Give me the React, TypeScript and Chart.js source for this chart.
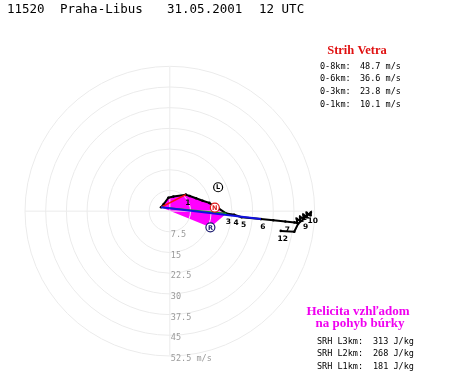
import { useEffect, useRef } from 'react';
import { Chart, registerables } from 'chart.js';
Chart.register(...registerables);

// Hodograph (u, v in m/s), surface to 12 km
const hodoU = [-3.2, -2.2, -0.5, 1.3, 5.8, 7.2, 9.5, 11.9, 14.3, 16.0, 17.8, 20.5, 23.3, 26.0, 33.0, 37.5, 41.9, 45.2, 46.2, 46.0, 47.4, 47.2, 48.5, 48.4, 49.7, 49.6, 50.9, 51.1, 46.5, 45.1, 40.2];
const hodoV = [1.4, 2.6, 4.9, 5.3, 6.0, 5.5, 4.7, 3.8, 3.0, 1.8, 0.9, -0.9, -1.3, -2.2, -2.9, -3.3, -3.8, -4.1, -4.3, -2.8, -3.6, -2.1, -2.9, -1.3, -2.2, -0.6, -1.5, -0.5, -4.6, -7.5, -7.2];
const kmLabels = ['1', '3', '4', '5', '6', '7', '9', '10', '12'];
const kmIndex = [4, 11, 12, 13, 14, 16, 22, 27, 30];
const idx1km = 4;
const idx3km = 11;
const idx6km = 14;

// Storm motion points
const stormNames = ['R', 'L', 'N'];
const stormU = [14.7, 17.5, 16.3];
const stormV = [-5.9, 8.7, 1.3];
const stormColors = ['#1c1c70', '#000000', '#e01818'];

// Rings
const ringValues = [7.5, 15, 22.5, 30, 37.5, 45, 52.5];
const ringLabels = ['7.5', '15', '22.5', '30', '37.5', '45', '52.5 m/s'];

// Texts
const titleParts = ['11520', 'Praha-Libus', '31.05.2001', '12 UTC'];
const shearTitle = 'Strih Vetra';
const shearLevels = ['0-8km:', '0-6km:', '0-3km:', '0-1km:'];
const shearValues = ['48.7', '36.6', '23.8', '10.1'];
const srhTitle = ['Helicita vzhľadom', 'na pohyb búrky'];
const srhLevels = ['SRH L3km:', 'SRH L2km:', 'SRH L1km:'];
const srhValues = ['313', '268', '181'];

const pts = (a: number, b: number) => {
  const out: { x: number; y: number }[] = [];
  for (let i = a; i <= b; i++) out.push({ x: hodoU[i], y: hodoV[i] });
  return out;
};

const MONO = '"DejaVu Sans Mono", monospace';
const SERIF = '"Liberation Serif", "Times New Roman", serif';

export default function App() {
  const ref = useRef<HTMLCanvasElement | null>(null);
  useEffect(() => {
    document.body.style.margin = '0';
    const canvas = ref.current!;
    const srhPoly = [...pts(0, idx3km), { x: stormU[0], y: stormV[0] }, { x: hodoU[0], y: hodoV[0] }];

    const gridPlugin = {
      id: 'hodoGrid',
      afterDatasetDraw(chart: any, args: any) {
        if (args.index !== 0) return;
        const xs = chart.scales.x, ys = chart.scales.y;
        const ctx = chart.ctx;
        const cx = xs.getPixelForValue(0), cy = ys.getPixelForValue(0);
        ctx.save();
        ctx.strokeStyle = '#ebebeb';
        ctx.lineWidth = 1;
        for (const r of ringValues) {
          const rp = xs.getPixelForValue(r) - cx;
          ctx.beginPath();
          ctx.arc(cx, cy, rp, 0, Math.PI * 2);
          ctx.stroke();
        }
        const R = ringValues[ringValues.length - 1];
        ctx.beginPath();
        ctx.moveTo(xs.getPixelForValue(-R), cy);
        ctx.lineTo(xs.getPixelForValue(R), cy);
        ctx.moveTo(cx, ys.getPixelForValue(R));
        ctx.lineTo(cx, ys.getPixelForValue(-R));
        ctx.stroke();
        ctx.restore();
      },
    };

    const textPlugin = {
      id: 'hodoText',
      afterDatasetsDraw(chart: any) {
        const xs = chart.scales.x, ys = chart.scales.y;
        const ctx = chart.ctx;
        const cx = xs.getPixelForValue(0);
        ctx.save();
        ctx.textBaseline = 'alphabetic';
        // ring labels
        ctx.fillStyle = '#9a9a9a';
        ctx.font = `8.5px ${MONO}`;
        ctx.textAlign = 'left';
        ringValues.forEach((r, i) => {
          const y = ys.getPixelForValue(-r);
          ctx.fillText(ringLabels[i], cx + 1, y + 5.5);
        });
        // km labels
        ctx.fillStyle = '#000';
        ctx.font = `bold 7.5px "DejaVu Sans", sans-serif`;
        ctx.textAlign = 'center';
        kmLabels.forEach((l, i) => {
          const k = kmIndex[i];
          const x = xs.getPixelForValue(hodoU[k]);
          const y = ys.getPixelForValue(hodoV[k]);
          ctx.fillText(l, x + 2, y + 10);
        });
        // storm letters
        ctx.font = `bold 6.5px "DejaVu Sans", sans-serif`;
        ctx.textBaseline = 'middle';
        stormNames.forEach((n, i) => {
          ctx.fillStyle = stormColors[i];
          ctx.fillText(n, xs.getPixelForValue(stormU[i]), ys.getPixelForValue(stormV[i]) + 0.5);
        });
        ctx.textBaseline = 'alphabetic';
        // title
        ctx.textAlign = 'left';
        ctx.fillStyle = '#000';
        ctx.font = `12.5px ${MONO}`;
        const tx = [7, 60, 167, 259];
        titleParts.forEach((t, i) => ctx.fillText(t, tx[i], 13));
        // shear panel
        ctx.textAlign = 'center';
        ctx.fillStyle = '#e01010';
        ctx.font = `bold 12.5px ${SERIF}`;
        ctx.fillText(shearTitle, 357, 54);
        ctx.textAlign = 'left';
        ctx.fillStyle = '#000';
        ctx.font = `8.5px ${MONO}`;
        const sy = [68.7, 81.3, 94, 107];
        shearLevels.forEach((l, i) => {
          ctx.fillText(l, 320, sy[i]);
          ctx.fillText(`${shearValues[i]} m/s`, 360, sy[i]);
        });
        // SRH panel
        ctx.textAlign = 'center';
        ctx.fillStyle = '#f000f0';
        ctx.font = `bold 13px ${SERIF}`;
        ctx.fillText(srhTitle[0], 358, 315);
        ctx.fillText(srhTitle[1], 360, 327);
        ctx.textAlign = 'left';
        ctx.fillStyle = '#000';
        ctx.font = `8.5px ${MONO}`;
        const ry = [343.7, 355.7, 369];
        srhLevels.forEach((l, i) => {
          ctx.fillText(l, 317, ry[i]);
          ctx.fillText(`${srhValues[i]} J/kg`, 373, ry[i]);
        });
        ctx.restore();
      },
    };

    const chart = new Chart(canvas, {
      type: 'line',
      data: {
        datasets: [
          {
            label: 'srh',
            data: srhPoly,
            fill: 'shape',
            backgroundColor: '#ff00ff',
            borderColor: '#ff00ff',
            borderWidth: 0,
            pointRadius: 0,
            tension: 0,
            order: 10,
          },
          {
            label: 'hodograph',
            data: pts(0, hodoU.length - 1),
            borderColor: '#000',
            borderWidth: 2,
            pointRadius: 1.3,
            pointBackgroundColor: '#000',
            pointBorderWidth: 0,
            fill: false,
            tension: 0,
            order: 5,
          },
          {
            label: '0-1',
            data: [{ x: hodoU[0], y: hodoV[0] }, { x: hodoU[idx1km], y: hodoV[idx1km] }],
            borderColor: '#ff1010',
            borderWidth: 1.5,
            pointRadius: 0,
            fill: false,
            order: 4,
          },
          {
            label: '0-3',
            data: [{ x: hodoU[0], y: hodoV[0] }, { x: hodoU[idx3km], y: hodoV[idx3km] }],
            borderColor: '#10b010',
            borderWidth: 1.5,
            pointRadius: 0,
            fill: false,
            order: 3,
          },
          {
            label: '0-6',
            data: [{ x: hodoU[0], y: hodoV[0] }, { x: hodoU[idx6km], y: hodoV[idx6km] }],
            borderColor: '#1010e0',
            borderWidth: 2,
            pointRadius: 0,
            fill: false,
            order: 2,
          },
          {
            label: 'storm',
            data: stormU.map((u, i) => ({ x: u, y: stormV[i] })),
            showLine: false,
            pointRadius: 4.5,
            pointBackgroundColor: '#fff',
            pointBorderColor: stormColors,
            pointBorderWidth: 1.2,
            order: 1,
          },
        ],
      },
      options: {
        responsive: false,
        animation: false,
        devicePixelRatio: 1,
        layout: { padding: 0 },
        plugins: { legend: { display: false }, tooltip: { enabled: false }, title: { display: false } },
        scales: {
          x: { type: 'linear', min: -59.5, max: 101.3, display: false },
          y: { type: 'linear', min: -60.5, max: 74.8, display: false },
        },
      },
      plugins: [gridPlugin, textPlugin],
    } as any);
    return () => chart.destroy();
  }, []);
  return <canvas ref={ref} width={455} height={383} style={{ display: 'block' }} />;
}
